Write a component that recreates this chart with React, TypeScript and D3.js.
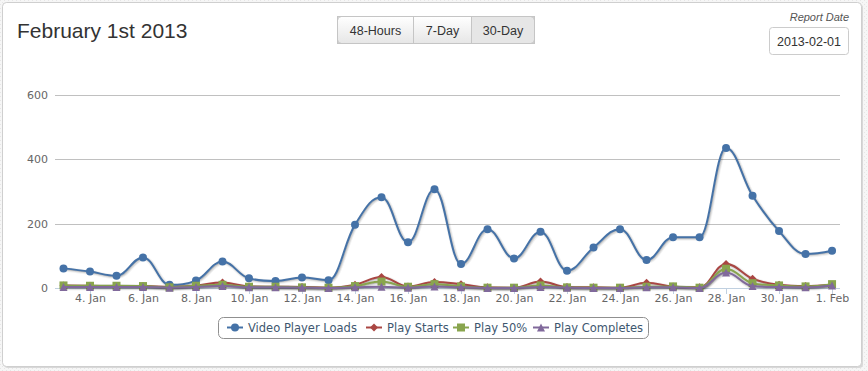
import React from "react";
import * as d3 from "d3";

const days = [
  "2013-01-03","2013-01-04","2013-01-05","2013-01-06","2013-01-07","2013-01-08","2013-01-09","2013-01-10",
  "2013-01-11","2013-01-12","2013-01-13","2013-01-14","2013-01-15","2013-01-16","2013-01-17","2013-01-18",
  "2013-01-19","2013-01-20","2013-01-21","2013-01-22","2013-01-23","2013-01-24","2013-01-25","2013-01-26",
  "2013-01-27","2013-01-28","2013-01-29","2013-01-30","2013-01-31","2013-02-01",
];
const videoPlayerLoads = [61,51,38,95,10,23,82,30,22,33,24,197,282,142,307,75,183,92,175,54,126,183,87,158,158,435,287,177,106,116];
const playStarts = [8,7,6,6,3,8,17,5,4,3,1,10,34,5,19,12,2,1,20,3,2,1,16,5,2,75,29,10,6,10];
const play50 = [8,7,7,6,2,7,10,4,4,2,1,6,20,4,12,5,1,1,8,2,1,1,4,5,1,60,15,8,5,12];
const playCompletes = [3,3,3,3,1,3,6,2,2,1,0,2,4,1,5,2,0,0,3,1,0,0,2,2,0,48,6,3,2,8];
const tickDays = ["2013-01-04","2013-01-06","2013-01-08","2013-01-10","2013-01-12","2013-01-14","2013-01-16","2013-01-18","2013-01-20","2013-01-22","2013-01-24","2013-01-26","2013-01-28","2013-01-30","2013-02-01"];
const yTicks = [0, 200, 400, 600];
const seriesNames = ["Video Player Loads", "Play Starts", "Play 50%", "Play Completes"];
const seriesColors = ["#4572A7", "#AA4643", "#89A54E", "#80699B"];
const seriesSymbols = ["circle", "diamond", "square", "triangle"];
const buttons = ["48-Hours", "7-Day", "30-Day"];

const parse = d3.utcParse("%Y-%m-%d");
const fmt = d3.utcFormat("%-d. %b");
const dates = days.map((d) => parse(d) as Date);
const t0 = dates[0].getTime();
const t1 = dates[dates.length - 1].getTime();
const DAY = 86400000;

const x = d3.scaleUtc().domain([new Date(t0 - 0.32 * DAY), new Date(t1 + 0.3 * DAY)]).range([55, 840]);
const y = d3.scaleLinear().domain([0, 600]).range([288, 95]);

function splinePath(pts: [number, number][]) {
  const p = d3.path();
  let lastRX = 0, lastRY = 0;
  pts.forEach(([px, py], i) => {
    if (i === 0) {
      p.moveTo(px, py);
      lastRX = px; lastRY = py;
      return;
    }
    let lX = px, lY = py, rX = px, rY = py;
    if (i < pts.length - 1) {
      const [ax, ay] = pts[i - 1];
      const [nx, ny] = pts[i + 1];
      const s = 1.5, den = 2.5;
      lX = (s * px + ax) / den; lY = (s * py + ay) / den;
      rX = (s * px + nx) / den; rY = (s * py + ny) / den;
      const corr = ((rY - lY) * (rX - px)) / (rX - lX) + py - rY;
      lY += corr; rY += corr;
      if (lY > ay && lY > py) { lY = Math.max(ay, py); rY = 2 * py - lY; }
      else if (lY < ay && lY < py) { lY = Math.min(ay, py); rY = 2 * py - lY; }
      if (rY > ny && rY > py) { rY = Math.max(ny, py); lY = 2 * py - rY; }
      else if (rY < ny && rY < py) { rY = Math.min(ny, py); lY = 2 * py - rY; }
    }
    p.bezierCurveTo(lastRX, lastRY, lX, lY, px, py);
    lastRX = rX; lastRY = rY;
  });
  return p.toString();
}

function Marker({ kind, cx, cy, color }: { kind: string; cx: number; cy: number; color: string }) {
  if (kind === "circle") return <circle cx={cx} cy={cy} r={4} fill={color} />;
  if (kind === "square") return <rect x={cx - 4} y={cy - 4} width={8} height={8} fill={color} />;
  if (kind === "diamond")
    return <path d={`M${cx},${cy - 4}L${cx + 4},${cy}L${cx},${cy + 4}L${cx - 4},${cy}Z`} fill={color} />;
  return <path d={`M${cx},${cy - 4}L${cx + 4},${cy + 4}L${cx - 4},${cy + 4}Z`} fill={color} />;
}

export default function App() {
  const allSeries = [videoPlayerLoads, playStarts, play50, playCompletes];
  const font = "'DejaVu Sans', Verdana, sans-serif";
  const arial = "'Liberation Sans', Arial, Helvetica, sans-serif";
  const btnX = [337, 413, 471, 534];
  const legendItems = [
    { sx: 227, tx: 248 },
    { sx: 366, tx: 387 },
    { sx: 453, tx: 474 },
    { sx: 533, tx: 554 },
  ];
  return (
    <svg width={868} height={371} style={{ position: "absolute", left: 0, top: 0 }}>
      <defs>
        <linearGradient id="btnGrad" x1="0" y1="0" x2="0" y2="1">
          <stop offset="0" stopColor="#ffffff" />
          <stop offset="1" stopColor="#e6e6e6" />
        </linearGradient>
        <pattern id="bgPat" width="4" height="4" patternUnits="userSpaceOnUse">
          <rect width="4" height="4" fill="#f6f6f6" />
          <rect width="1" height="1" fill="#e6e6e6" />
          <rect x="2" y="2" width="1" height="1" fill="#e6e6e6" />
        </pattern>
      </defs>
      <rect width={868} height={371} fill="url(#bgPat)" />
      <rect x={4} y={4} width={859} height={364} rx={4} fill="#d8d8d8" />
      <rect x={2.5} y={2.5} width={859} height={364} rx={4} fill="#fff" stroke="#cfcfcf" />

      <text x={17} y={38} fontFamily={arial} fontSize={21} fill="#333">February 1st 2013</text>

      {/* buttons */}
      {buttons.map((b, i) => (
        <g key={b}>
          <rect
            x={btnX[i] + 0.5}
            y={16.5}
            width={btnX[i + 1] - btnX[i]}
            height={27}
            fill={i === 2 ? "#e6e6e6" : "url(#btnGrad)"}
            stroke="#c5c5c5"
          />
          <text x={(btnX[i] + btnX[i + 1]) / 2 + 0.5} y={35} textAnchor="middle" fontFamily={arial} fontSize={12.5} fill="#333">
            {b}
          </text>
        </g>
      ))}
      <rect x={btnX[0] + 0.5} y={16.5} width={btnX[3] - btnX[0]} height={27} rx={4} fill="none" stroke="#c5c5c5" />

      <text x={849} y={21} textAnchor="end" fontFamily={arial} fontStyle="italic" fontSize={11} fill="#555">Report Date</text>
      <rect x={769.5} y={27.5} width={79} height={27} rx={3} fill="#fff" stroke="#ccc" />
      <text x={809} y={46} textAnchor="middle" fontFamily={arial} fontSize={12.5} fill="#333">2013-02-01</text>

      {/* grid */}
      {yTicks.map((t) => (
        <g key={t}>
          <line x1={55} x2={840} y1={Math.round(y(t)) + 0.5} y2={Math.round(y(t)) + 0.5} stroke="#C0C0C0" />
          <text x={48} y={y(t) + 4} textAnchor="end" fontFamily={font} fontSize={11} fill="#666">{t}</text>
        </g>
      ))}
      <line x1={55} x2={840} y1={288.5} y2={288.5} stroke="#C0D0E0" />
      {tickDays.map((d) => {
        const dt = parse(d) as Date;
        const tx = Math.round(x(dt)) + 0.5;
        return (
          <g key={d}>
            <line x1={tx} x2={tx} y1={288} y2={294} stroke="#C0D0E0" />
            <text x={tx} y={302} textAnchor="middle" fontFamily={font} fontSize={11} fill="#666">{fmt(dt)}</text>
          </g>
        );
      })}

      {/* series */}
      {allSeries.map((vals, si) => {
        const pts = vals.map((v, i) => [x(dates[i]), y(v)] as [number, number]);
        const d = splinePath(pts);
        return (
          <g key={si}>
            {[1, 2, 3].map((k) => (
              <path key={k} d={d} fill="none" stroke="black" strokeOpacity={0.05 * k} strokeWidth={7 - 2 * k} transform="translate(1,1)" strokeLinejoin="round" />
            ))}
            <path d={d} fill="none" stroke={seriesColors[si]} strokeWidth={2} strokeLinejoin="round" />
            {pts.map(([px, py], i) => (
              <Marker key={i} kind={seriesSymbols[si]} cx={px} cy={py} color={seriesColors[si]} />
            ))}
          </g>
        );
      })}

      {/* legend */}
      <rect x={218.5} y={317.5} width={430} height={21} rx={5} fill="#fff" stroke="#909090" />
      {seriesNames.map((n, i) => (
        <g key={n}>
          <line x1={legendItems[i].sx} x2={legendItems[i].sx + 16} y1={327.5} y2={327.5} stroke={seriesColors[i]} strokeWidth={2} />
          <Marker kind={seriesSymbols[i]} cx={legendItems[i].sx + 8} cy={327.5} color={seriesColors[i]} />
          <text x={legendItems[i].tx} y={332} fontFamily={font} fontSize={11.5} fill="#3E576F">{n}</text>
        </g>
      ))}
    </svg>
  );
}
